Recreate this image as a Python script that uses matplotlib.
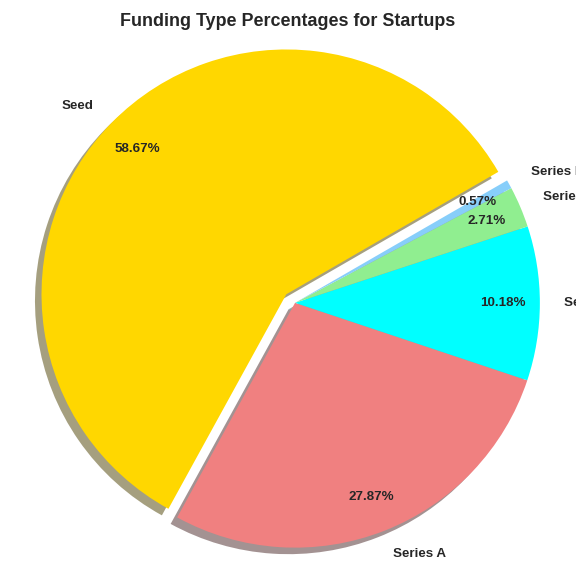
import matplotlib
matplotlib.use("Agg")
import matplotlib.pyplot as plt
import seaborn as sns

# Data
labels = ["Seed", "Series A", "Series B", "Series C", "Series D"]
shares = [58.67, 27.87, 10.18, 2.71, 0.57]
colors = ["gold", "lightcoral", "cyan", "lightgreen", "lightskyblue"]
explode = [0.05, 0, 0, 0, 0]

sns.set_style("white")
plt.rcParams["font.family"] = ["Liberation Sans", "DejaVu Sans"]

fig = plt.figure(figsize=(6, 6), dpi=96)
ax = fig.add_axes([-0.019, -0.057, 1.0625, 1.0625])

ax.pie(shares, labels=labels, colors=colors, explode=explode,
       autopct="%1.2f%%", pctdistance=0.85, startangle=30, shadow=True,
       wedgeprops={"linewidth": 0},
       textprops={"fontsize": 10, "fontweight": "bold", "color": "#262626"})
ax.set_xlim(-1.25, 1.25)
ax.set_ylim(-1.25, 1.25)

fig.suptitle("Funding Type Percentages for Startups", y=0.977,
             fontsize=13.4, fontweight="bold", color="#262626")

plt.savefig("out.png", dpi=96)
